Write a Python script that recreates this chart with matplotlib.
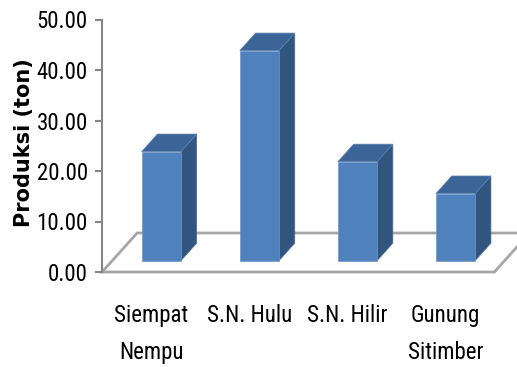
import numpy as np
import matplotlib
matplotlib.use("Agg")
import matplotlib.pyplot as plt
from matplotlib.patches import Polygon

# Produksi per lokasi (ton)
lokasi = ["Siempat\nNempu", "S.N. Hulu", "S.N. Hilir", "Gunung\nSitimber"]
produksi = [21.6, 41.6, 19.6, 13.3]
yticks = [0, 10, 20, 30, 40, 50]

# tampilan 3D semu: geser kedalaman (satuan kategori / satuan nilai)
DX, DY = 0.357, 7.72
d0, d1 = 0.29, 0.74        # posisi depan/belakang batang
lebar = 0.40

c_depan = "#4f81bd"
c_atas = "#3c6496"
c_samping = "#31557f"
c_lantai = "#a6a6a6"


def proj(x, y, d):
    return (x + d * DX, y + d * DY)


fig = plt.figure(figsize=(5.17, 3.67), dpi=100)
ax = fig.add_axes([101.7 / 517, 95 / 367, (517 - 101.7) / 517, 252.5 / 367])
ax.set_xlim(-0.504, 3.73)
ax.set_ylim(0, 50)

n = len(produksi)
xs = np.arange(n)

# lantai
lantai = [proj(-0.5, 0, 0), proj(n - 0.5, 0, 0), proj(n - 0.5, 0, 1), proj(-0.5, 0, 1)]
ax.add_patch(Polygon(lantai, closed=True, facecolor="white", edgecolor=c_lantai,
                     lw=2, clip_on=False, zorder=1))

# batang: muka depan lewat ax.bar, sisi kanan dan atas sebagai poligon
ax.bar(xs + d0 * DX, produksi, width=lebar, bottom=d0 * DY, color=c_depan,
       edgecolor="#6f97c8", lw=0.5, zorder=3)
for x, v in zip(xs, produksi):
    kiri, kanan = x - lebar / 2, x + lebar / 2
    samping = [proj(kanan, 0, d0), proj(kanan, 0, d1), proj(kanan, v, d1), proj(kanan, v, d0)]
    atas = [proj(kiri, v, d0), proj(kanan, v, d0), proj(kanan, v, d1), proj(kiri, v, d1)]
    ax.add_patch(Polygon(samping, closed=True, facecolor=c_samping, edgecolor="#4a6d98",
                         lw=0.5, zorder=2))
    ax.add_patch(Polygon(atas, closed=True, facecolor=c_atas, edgecolor="#5a82b4",
                         lw=0.5, zorder=4, clip_on=False))

for s in ["top", "right", "bottom"]:
    ax.spines[s].set_visible(False)
ax.spines["left"].set_color("#868686")
ax.spines["left"].set_linewidth(1.5)

huruf = ["Roboto Condensed", "DejaVu Sans"]
ax.set_yticks(yticks)
ax.set_yticklabels([f"{t:.2f}" for t in yticks], family=huruf, fontsize=16.5)
ax.tick_params(axis="y", direction="out", length=5, width=1.5, color="#868686", pad=5)

ax.set_xticks(xs)
ax.set_xticklabels(lokasi, family=huruf, fontsize=16.5, linespacing=1.8)
ax.tick_params(axis="x", length=0, pad=23)

ax.set_ylabel("Produksi (ton)", fontsize=15, fontweight="bold", va="center",
              family=["DejaVu Sans"])
ax.yaxis.set_label_coords(-0.188, 0.511)

fig.savefig("out.png", dpi=100)
